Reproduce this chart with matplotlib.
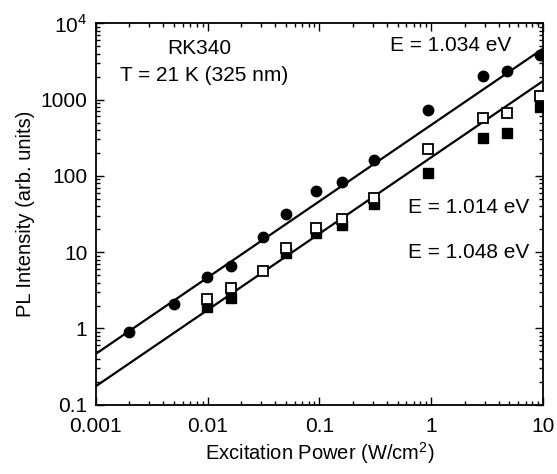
import numpy as np
import matplotlib

matplotlib.use("Agg")
import matplotlib.pyplot as plt
from matplotlib.ticker import LogLocator, NullFormatter, FixedLocator, FixedFormatter

# E = 1.034 eV (filled circles)
p_circ = [0.002, 0.005, 0.0098, 0.0163, 0.031, 0.050, 0.094, 0.16, 0.31, 0.94, 2.9, 4.8, 9.3]
i_circ = [0.9, 2.1, 4.7, 6.5, 15.7, 31.6, 63, 83, 161, 727, 2045, 2380, 3800]

# E = 1.014 eV (open squares)
p_open = [0.0098, 0.0163, 0.031, 0.050, 0.094, 0.16, 0.31, 0.94, 2.9, 4.8, 9.3]
i_open = [2.4, 3.4, 5.6, 11.5, 21, 27.5, 52, 225, 565, 670, 1100]

# E = 1.048 eV (filled squares)
p_fill = [0.0098, 0.0163, 0.050, 0.094, 0.16, 0.31, 0.94, 2.9, 4.8, 9.3]
i_fill = [1.9, 2.5, 9.8, 18, 22.7, 43, 110, 309, 364, 795]

# power-law fits I = A * P^k
fit_upper = (465.0, 1.0)
fit_lower = (175.0, 1.0)

x_ticks = [0.001, 0.01, 0.1, 1, 10]
x_labels = ["0.001", "0.01", "0.1", "1", "10"]
y_ticks = [0.1, 1, 10, 100, 1000, 10000]
y_labels = ["0.1", "1", "10", "100", "1000", "$10^4$"]

plt.rcParams["font.family"] = ["Liberation Sans", "DejaVu Sans"]
plt.rcParams["mathtext.fontset"] = "custom"
plt.rcParams["mathtext.rm"] = "Liberation Sans"

fig = plt.figure(figsize=(5.57, 4.74), dpi=100)
ax = fig.add_axes([0.172, 0.146, 0.803, 0.805])

pp = np.logspace(-3, 1, 50)
for a, k in (fit_upper, fit_lower):
    ax.plot(pp, a * pp ** k, color="black", lw=1.6, zorder=2)

ax.plot(p_fill, i_fill, "s", color="black", ms=6.5, zorder=3)
ax.plot(p_open, i_open, "s", mfc="white", mec="black", mew=1.3, ms=7, zorder=4)
ax.plot(p_circ, i_circ, "o", color="black", ms=7.5, zorder=5)

ax.set_xscale("log")
ax.set_yscale("log")
ax.set_xlim(0.001, 10)
ax.set_ylim(0.1, 10000)

ax.xaxis.set_major_locator(FixedLocator(x_ticks))
ax.xaxis.set_major_formatter(FixedFormatter(x_labels))
ax.yaxis.set_major_locator(FixedLocator(y_ticks))
ax.yaxis.set_major_formatter(FixedFormatter(y_labels))
for axis in (ax.xaxis, ax.yaxis):
    axis.set_minor_locator(LogLocator(base=10, subs=np.arange(2, 10), numticks=20))
    axis.set_minor_formatter(NullFormatter())

ax.tick_params(which="both", direction="in", top=True, right=True, labelsize=15, width=1.0)
ax.tick_params(which="major", length=6)
ax.tick_params(axis="x", which="major", pad=9)
ax.tick_params(axis="y", which="major", pad=6)
ax.tick_params(which="minor", length=3)
for s in ax.spines.values():
    s.set_linewidth(1.3)

ax.set_xlabel("Excitation Power (W/cm$^2$)", fontsize=14.5, labelpad=3)
ax.set_ylabel("PL Intensity (arb. units)", fontsize=14.5, labelpad=4)

ax.text(0.232, 0.935, "RK340", transform=ax.transAxes, ha="center", va="center", fontsize=15)
ax.text(0.242, 0.862, "T = 21 K (325 nm)", transform=ax.transAxes, ha="center", va="center", fontsize=15)
ax.text(0.928, 0.942, "E = 1.034 eV", transform=ax.transAxes, ha="right", va="center", fontsize=15)
ax.text(0.968, 0.516, "E = 1.014 eV", transform=ax.transAxes, ha="right", va="center", fontsize=15)
ax.text(0.968, 0.398, "E = 1.048 eV", transform=ax.transAxes, ha="right", va="center", fontsize=15)

fig.savefig("out.png", dpi=100)
